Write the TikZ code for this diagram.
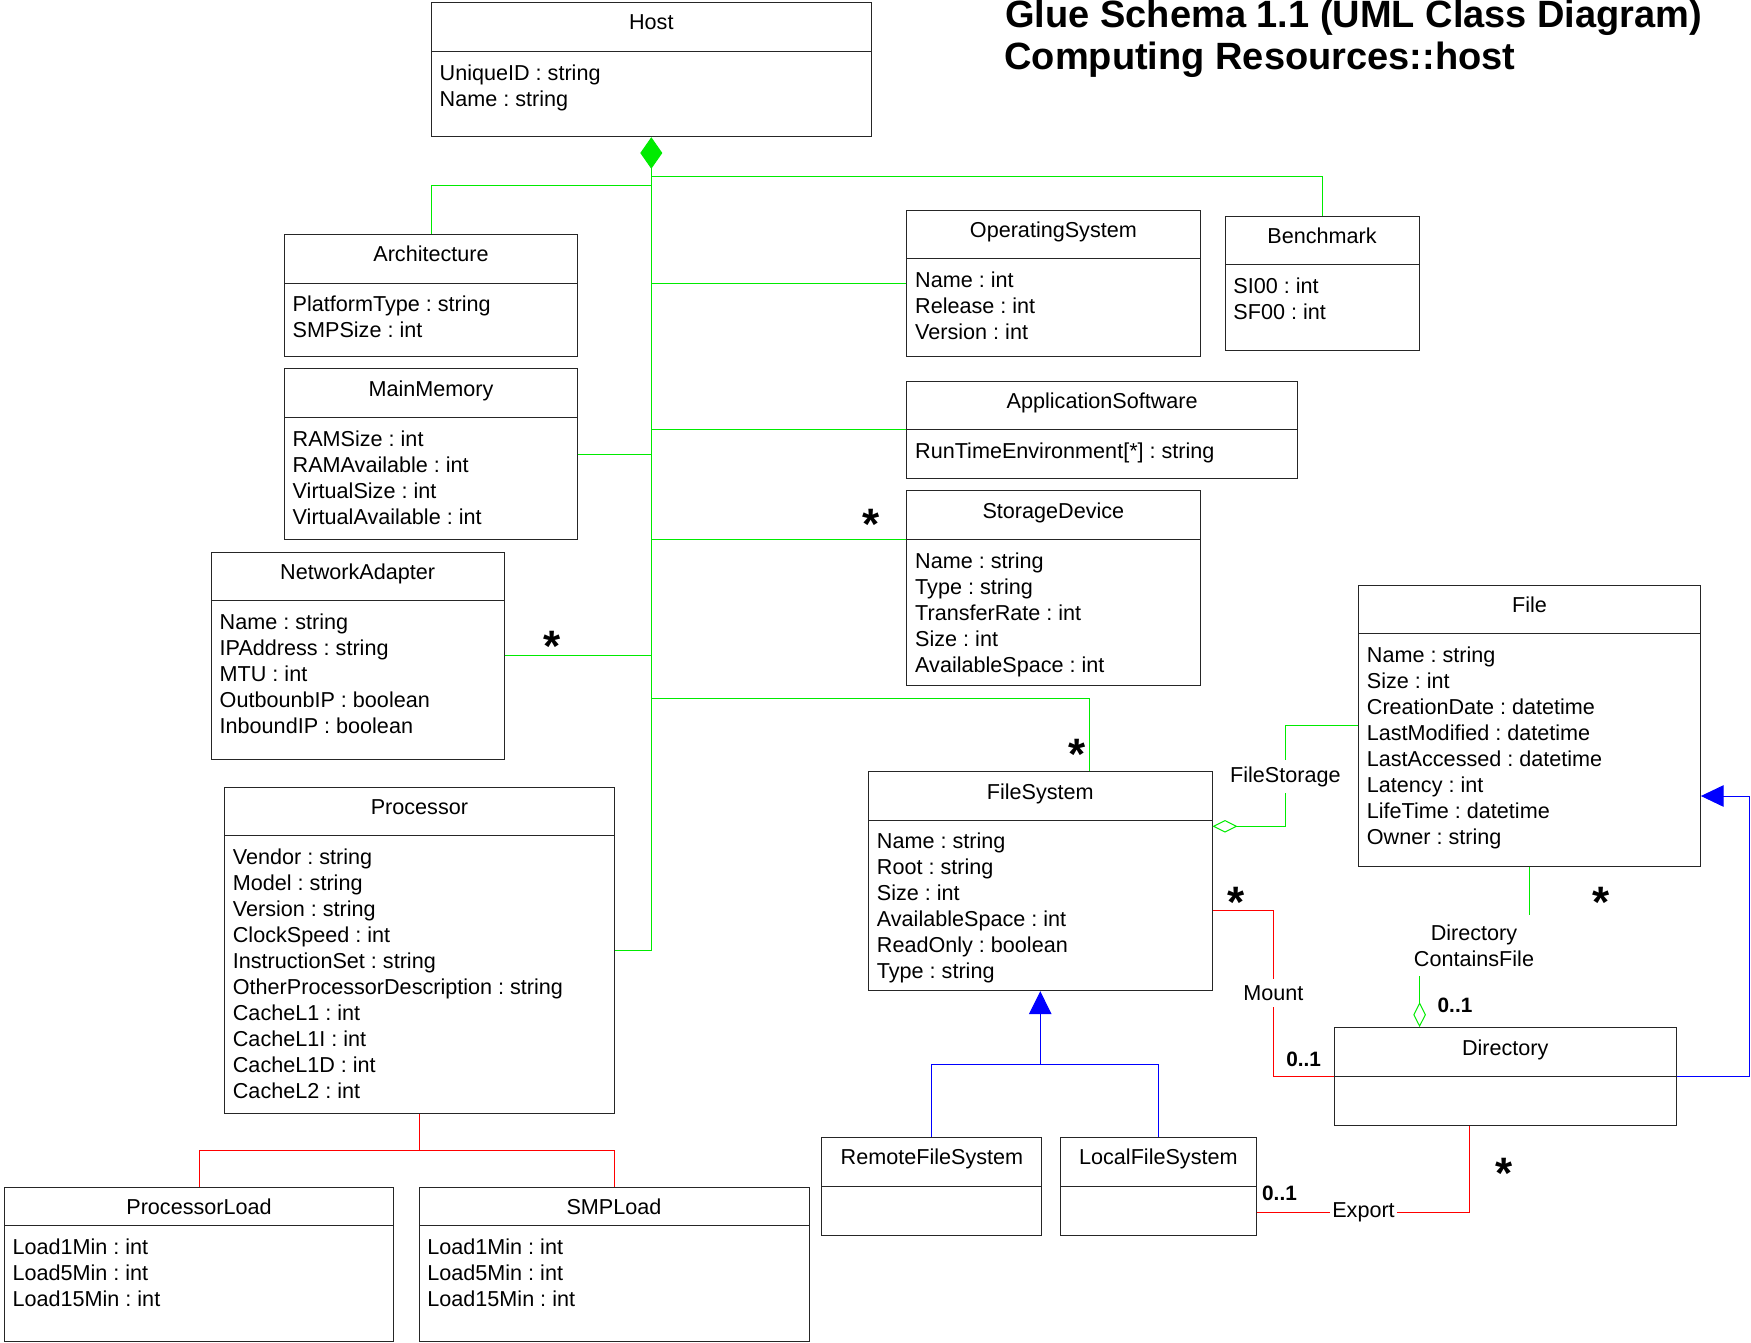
\documentclass[tikz,border=0pt]{standalone}
\usepackage{fontspec}
\setmainfont{Liberation Sans}
\usetikzlibrary{arrows.meta,fit}
\frenchspacing

\definecolor{assocgreen}{RGB}{0,235,0}
\definecolor{linkred}{RGB}{255,0,0}
\definecolor{genblue}{RGB}{0,0,255}

% UML class: name, left, top, right, bottom, y of the compartment line, title, attributes
\newcommand\umlclass[8]{%
  \coordinate (#1-nw) at (#2,#3);
  \coordinate (#1-se) at (#4,#5);
  \node[classbox, fit=(#1-nw)(#1-se)] (#1) {};
  \draw[classbox] (#2,#6) -- (#4,#6);
  \node[ctitle] (#1-title) at ({(#2+#4)/2},{#3+27.5}) {#7};
  \node[cattr] (#1-attrs) at ({#2+8},{#6+12.5}) {\rule{0pt}{8pt}#8};
}

\begin{document}
\begin{tikzpicture}[
  x=0.5pt, y=-0.5pt,
  classbox/.style={draw=black!85, line width=0.5pt, inner sep=0pt},
  ctitle/.style={font=\fontsize{10.8}{13}\selectfont, anchor=base, inner sep=0pt},
  cattr/.style={font=\fontsize{10.8}{13}\selectfont, anchor=north west, align=left, inner sep=0pt},
  lbl/.style={font=\fontsize{10.8}{13}\selectfont, inner xsep=1pt, inner ysep=3pt},
  mult/.style={font=\fontsize{22}{22}\selectfont\bfseries, anchor=base, inner sep=0pt},
  card/.style={font=\fontsize{10.4}{11}\selectfont\bfseries, inner sep=0pt},
  heading/.style={font=\fontsize{19}{19}\selectfont\bfseries, anchor=base west, inner sep=0pt},
  assoc/.style={draw=assocgreen, line width=0.5pt},
  rel/.style={draw=linkred, line width=0.5pt},
  gen/.style={draw=genblue, line width=0.5pt},
]
\useasboundingbox (0,0) rectangle (1751,1343);

% heading
\node[heading] (title1) at (1005,27.5) {Glue Schema 1.1 (UML Class Diagram)};
\node[heading] (title2) at (1004,70) {Computing Resources::host};

% classes
\umlclass{host}{431.3}{2.3}{871.3}{136.7}{51.3}{Host}{UniqueID : string\\Name : string}
\umlclass{arch}{284.3}{234.3}{577.7}{356}{283}{Architecture}{PlatformType : string\\SMPSize : int}
\umlclass{mm}{284.3}{368.7}{577.7}{539.3}{417.7}{MainMemory}{RAMSize : int\\RAMAvailable : int\\VirtualSize : int\\VirtualAvailable : int}
\umlclass{na}{211.3}{552}{504}{759}{600.7}{NetworkAdapter}{Name : string\\IPAddress : string\\MTU : int\\OutbounbIP : boolean\\InboundIP : boolean}
\umlclass{proc}{224.5}{787.3}{614.3}{1113.3}{835.3}{Processor}{Vendor : string\\Model : string\\Version : string\\ClockSpeed : int\\InstructionSet : string\\OtherProcessorDescription : string\\CacheL1 : int\\CacheL1I : int\\CacheL1D : int\\CacheL2 : int}
\umlclass{pload}{4.2}{1187.3}{393.8}{1341}{1225.7}{ProcessorLoad}{Load1Min : int\\Load5Min : int\\Load15Min : int}
\umlclass{smp}{419}{1187.3}{809}{1341}{1225.7}{SMPLoad}{Load1Min : int\\Load5Min : int\\Load15Min : int}
\umlclass{os}{906.8}{210}{1200}{356}{258.7}{OperatingSystem}{Name : int\\Release : int\\Version : int}
\umlclass{bench}{1225}{216}{1419}{350.5}{264.7}{Benchmark}{SI00 : int\\SF00 : int}
\umlclass{appsw}{906.8}{381}{1297.5}{478.3}{429.7}{ApplicationSoftware}{RunTimeEnvironment[*] : string}
\umlclass{sd}{906.8}{490.7}{1200}{685.7}{539.3}{StorageDevice}{Name : string\\Type : string\\TransferRate : int\\Size : int\\AvailableSpace : int}
\umlclass{file}{1358.5}{585}{1700.4}{866.5}{633.7}{File}{Name : string\\Size : int\\CreationDate : datetime\\LastModified : datetime\\LastAccessed : datetime\\Latency : int\\LifeTime : datetime\\Owner : string}
\umlclass{fs}{868.5}{771.7}{1212}{990.7}{820}{FileSystem}{Name : string\\Root : string\\Size : int\\AvailableSpace : int\\ReadOnly : boolean\\Type : string}
\umlclass{dir}{1334.5}{1027.7}{1676}{1125.6}{1076.3}{Directory}{}
\umlclass{rfs}{821.9}{1137.3}{1041.9}{1235}{1186.7}{RemoteFileSystem}{}
\umlclass{lfs}{1060.5}{1137.3}{1256.2}{1235}{1186.7}{LocalFileSystem}{}

% composition of the host parts
\draw[assoc, -{Diamond[length=15.8pt,width=11pt]}] (proc.east) -- (host.south |- proc.east) -- (host.south);
\draw[assoc] (host.south |- 0,185.3) -| (arch.north);
\draw[assoc] (host.south |- 0,176.7) -| (bench.north);
\draw[assoc] (host.south |- os.west) -- (os.west);
\draw[assoc] (host.south |- 0,429.7) -- (appsw.west |- 0,429.7);
\draw[assoc] (host.south |- 0,539.3) -- (sd.west |- 0,539.3);
\draw[assoc] (mm.east) -- (host.south |- mm.east);
\draw[assoc] (na.east) -- (host.south |- na.east);
\draw[assoc] (host.south |- 0,698.5) -| (1089,0 |- fs.north);

% FileStorage aggregation
\node[lbl, anchor=base] (fslbl) at (1285.4,782) {FileStorage};
\draw[assoc, -{Diamond[open,length=12.5pt,width=6.3pt]}] (fslbl.south) |- (fs.east |- 0,826.3);
\draw[assoc] (fslbl.north) |- (file.west |- 0,725.3);

% DirectoryContainsFile aggregation
\node[lbl, align=center, anchor=north, inner xsep=0pt, inner ysep=4.5pt] (dcflbl) at (1474,915.4) {Directory\\ContainsFile};
\draw[assoc] (file.south) -- (file.south |- dcflbl.north);
\draw[assoc, -{Diamond[open,length=12.5pt,width=6.3pt]}] (1419.6,0 |- dcflbl.south) -- (1419.6,0 |- dir.north);

% Mount association
\node[lbl, anchor=base] (mountlbl) at (1273.3,1000.7) {Mount};
\draw[rel] (fs.east |- 0,910.3) -| (mountlbl.north);
\draw[rel] (mountlbl.south) |- (dir.west |- 0,1076.3);

% Export association
\node[lbl, anchor=base] (explbl) at (1363.5,1217.3) {Export};
\draw[rel] (lfs.east |- explbl.west) -- (explbl.west);
\draw[rel] (explbl.east) -| (1469.6,0 |- dir.south);

% processor load
\draw[rel] (proc.south) -- (proc.south |- 0,1150.3) -| (pload.north);
\draw[rel] (proc.south |- 0,1150.3) -| (smp.north);

% generalizations
\draw[gen, -{Triangle[length=11.5pt,width=11.3pt]}] (rfs.north) |- (fs.south |- 0,1064) -- (fs.south);
\draw[gen] (lfs.north) |- (fs.south |- 0,1064);
\draw[gen, -{Triangle[length=11.4pt,width=10.8pt]}] (dir.east |- 0,1076.3) -| (1749.2,796) -- (file.east |- 0,796);

% multiplicities
\node[mult] (m-sd) at (870.7,539.5) {*};
\node[mult] (m-na) at (551.7,661.2) {*};
\node[mult] (m-fs) at (1077,769.5) {*};
\node[mult] (m-mount) at (1236,917.8) {*};
\node[mult] (m-file) at (1601.4,917.8) {*};
\node[mult] (m-export) at (1504.2,1188.1) {*};
\node[card] (c-dir) at (1455,1005) {0..1};
\node[card] (c-mount) at (1303.7,1059.5) {0..1};
\node[card] (c-export) at (1279.5,1193.5) {0..1};
\end{tikzpicture}
\end{document}
